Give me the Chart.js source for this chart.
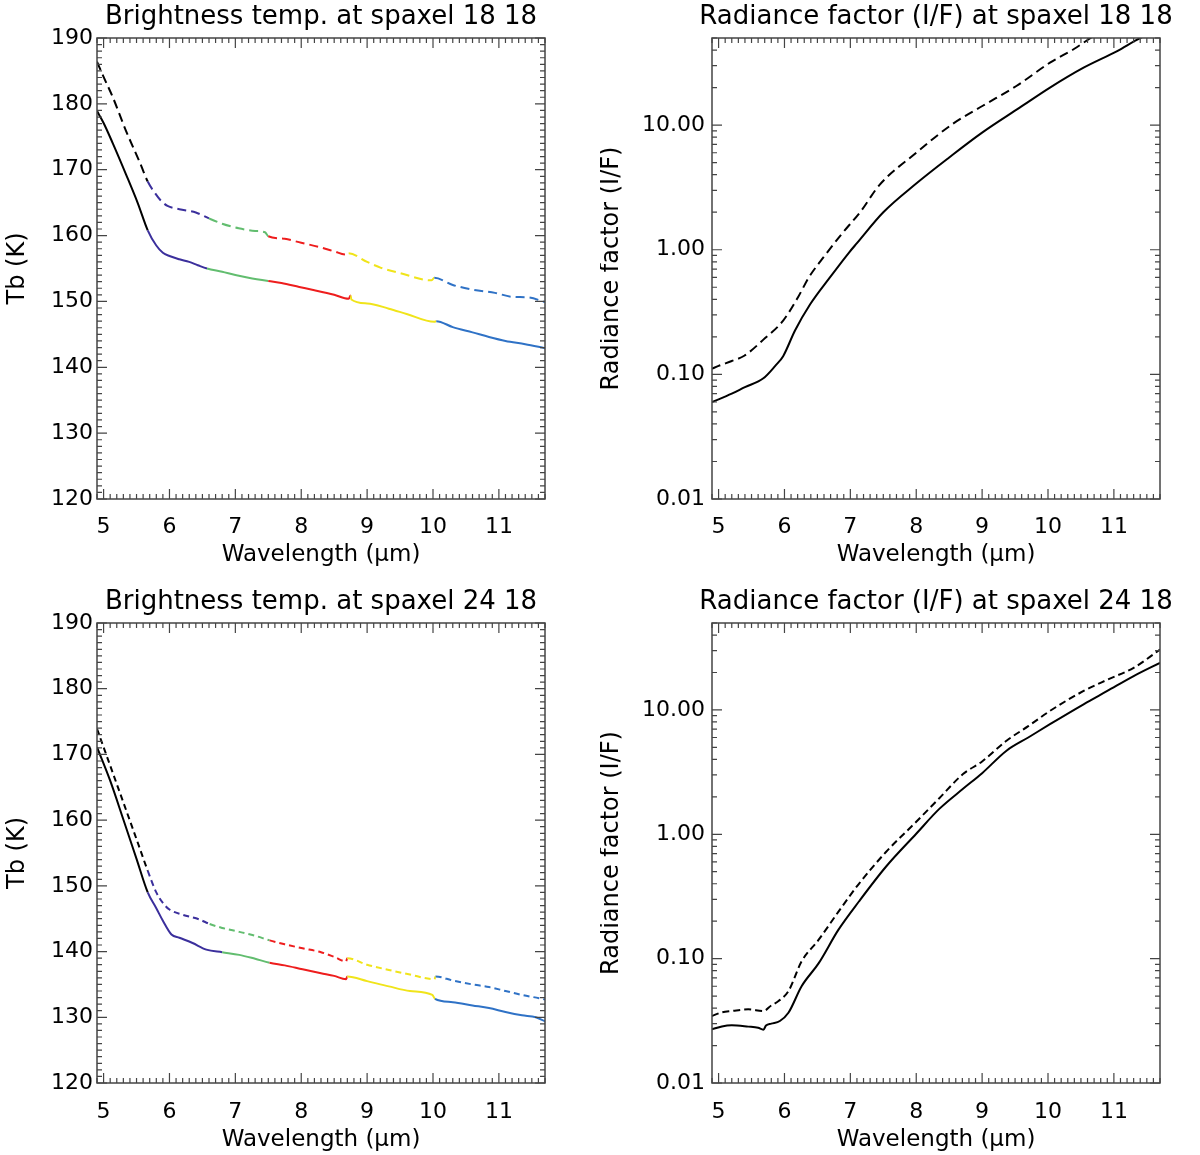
<!DOCTYPE html>
<html>
<head>
<meta charset="utf-8">
<script src="https://cdn.jsdelivr.net/npm/chart.js@4.4.1/dist/chart.umd.min.js"></script>
<style>
  html, body { margin: 0; padding: 0; background: #fff; }
  .panel { position: absolute; }
</style>
</head>
<body>
<div class="panel" style="left:0;top:0;width:600px;height:577px"><canvas id="tb18"></canvas></div>
<div class="panel" style="left:600px;top:0;width:600px;height:577px"><canvas id="if18"></canvas></div>
<div class="panel" style="left:0;top:577px;width:600px;height:578px"><canvas id="tb24"></canvas></div>
<div class="panel" style="left:600px;top:577px;width:600px;height:578px"><canvas id="if24"></canvas></div>
<script>
// ---- data ----
const wlTicks = [5, 6, 7, 8, 9, 10, 11];
const tbTicks = [120, 130, 140, 150, 160, 170, 180, 190];
const ifTicks = [0.01, 0.1, 1, 10];

// colour of each spectral band, left to right
const bandColors = ['#000000', '#3b2f9c', '#62bd6f', '#ee1d1d', '#f0e41a', '#2f72c6'];

// spaxel 18 18, brightness temperature
const tb18SolidWl = [4.90, 5.00, 5.14, 5.34, 5.52, 5.67, 5.80, 5.90, 6.00, 6.15, 6.30, 6.43, 6.57, 6.80, 7.00, 7.20, 7.50,
  7.70, 7.97, 8.20, 8.50, 8.72, 8.75, 8.76, 9.00, 9.33, 9.60, 10.02, 10.05, 10.30, 10.60, 10.85, 11.10, 11.40, 11.70];
const tb18SolidTb = [178.9, 177.1, 174.0, 169.3, 164.9, 160.8, 158.5, 157.4, 156.9, 156.4, 156.0, 155.5, 155.0, 154.5, 154.0, 153.6, 153.1,
  152.8, 152.2, 151.7, 151.0, 150.4, 150.9, 150.3, 149.7, 148.9, 148.1, 146.9, 147.0, 146.1, 145.3, 144.6, 144.0, 143.5, 142.9];
const tb18SolidEdges = [5.67, 6.57, 7.50, 8.75, 10.03];

const tb18DashWl = [4.90, 5.00, 5.14, 5.34, 5.55, 5.67, 5.77, 5.87, 5.97, 6.15, 6.40, 6.60, 6.80, 7.05, 7.30, 7.45, 7.50,
  7.75, 8.00, 8.30, 8.50, 8.68, 8.72, 9.00, 9.21, 9.50, 9.98, 10.02, 10.30, 10.60, 10.94, 11.20, 11.45, 11.70];
const tb18DashTb = [186.4, 184.1, 181.0, 175.9, 171.1, 168.2, 166.6, 165.3, 164.5, 164.0, 163.5, 162.6, 161.8, 161.1, 160.7, 160.5, 159.9,
  159.5, 158.9, 158.2, 157.6, 157.1, 157.3, 156.0, 155.1, 154.3, 153.2, 153.6, 152.5, 151.8, 151.3, 150.7, 150.6, 149.9];
const tb18DashEdges = [5.67, 6.58, 7.48, 8.70, 10.00];

// spaxel 24 18, brightness temperature
const tb24SolidWl = [4.90, 5.10, 5.30, 5.50, 5.67, 5.80, 5.90, 6.03, 6.15, 6.35, 6.56, 6.80, 7.06, 7.30, 7.52,
  7.75, 8.02, 8.30, 8.50, 8.68, 8.70, 9.00, 9.33, 9.65, 9.99, 10.03, 10.30, 10.60, 10.85, 11.10, 11.35, 11.56, 11.70];
const tb24SolidTb = [171.1, 166.0, 160.1, 154.1, 149.0, 146.6, 144.7, 142.6, 142.1, 141.3, 140.3, 139.9, 139.5, 138.9, 138.3,
  137.9, 137.3, 136.7, 136.3, 135.8, 136.2, 135.5, 134.7, 134.0, 133.4, 132.8, 132.3, 131.8, 131.4, 130.8, 130.3, 130.0, 129.4];
const tb24SolidEdges = [5.67, 6.58, 7.52, 8.70, 10.03];

const tb24DashWl = [4.90, 5.10, 5.30, 5.50, 5.67, 5.80, 5.90, 6.00, 6.20, 6.45, 6.61, 6.80, 7.06, 7.30, 7.52,
  7.75, 8.02, 8.30, 8.50, 8.68, 8.70, 9.00, 9.33, 9.65, 10.02, 10.04, 10.30, 10.60, 10.85, 11.10, 11.35, 11.61, 11.70];
const tb24DashTb = [173.9, 168.3, 162.7, 157.1, 152.3, 149.0, 147.4, 146.4, 145.6, 144.9, 144.2, 143.6, 143.0, 142.4, 141.7,
  141.1, 140.5, 139.9, 139.2, 138.5, 139.0, 138.0, 137.2, 136.5, 135.8, 136.2, 135.6, 135.0, 134.6, 134.0, 133.4, 132.9, 132.7];
const tb24DashEdges = [5.67, 6.61, 7.52, 8.70, 10.04];

// spaxel 18 18, radiance factor
const if18SolidWl = [4.90, 5.00, 5.20, 5.40, 5.68, 5.86, 5.98, 6.16, 6.39, 6.69, 6.98, 7.10, 7.50, 8.00, 8.50, 9.00,
  9.57, 10.03, 10.54, 11.05, 11.40, 11.70];
const if18SolidIf = [0.060, 0.063, 0.070, 0.079, 0.093, 0.117, 0.140, 0.225, 0.365, 0.60, 0.95, 1.13, 2.00, 3.40, 5.5, 8.7,
  13.8, 20.0, 28.9, 39.3, 50.0, 58.0];

const if18DashWl = [4.90, 5.00, 5.20, 5.39, 5.68, 5.98, 6.21, 6.37, 6.57, 6.87, 7.16, 7.44, 8.00, 8.55, 9.01, 9.52,
  10.03, 10.40, 10.70, 11.00];
const if18DashIf = [0.111, 0.117, 0.128, 0.141, 0.190, 0.270, 0.420, 0.60, 0.84, 1.34, 2.04, 3.30, 6.0, 10.2, 14.3, 20.6,
  31.7, 41.0, 52.0, 62.0];

// spaxel 24 18, radiance factor
const if24SolidWl = [4.90, 5.05, 5.20, 5.45, 5.60, 5.68, 5.72, 5.80, 5.93, 6.06, 6.26, 6.52, 6.82, 7.13, 7.54, 8.00,
  8.35, 8.71, 9.00, 9.37, 9.70, 10.03, 10.54, 10.90, 11.30, 11.70];
const if24SolidIf = [0.0270, 0.0285, 0.0291, 0.0284, 0.0278, 0.0268, 0.0290, 0.0300, 0.0315, 0.0367, 0.060, 0.092, 0.171, 0.288, 0.548, 1.01,
  1.60, 2.32, 3.10, 4.70, 6.0, 7.68, 11.1, 14.2, 18.7, 23.9];

const if24DashWl = [4.90, 5.05, 5.20, 5.45, 5.68, 5.80, 5.91, 6.06, 6.26, 6.52, 6.82, 7.13, 7.54, 8.00, 8.35, 8.71,
  9.00, 9.37, 9.70, 10.03, 10.54, 10.90, 11.30, 11.70];
const if24DashIf = [0.0346, 0.0370, 0.0379, 0.0391, 0.0379, 0.0420, 0.0456, 0.0548, 0.095, 0.142, 0.239, 0.40, 0.72, 1.26, 1.95, 3.05,
  3.85, 5.65, 7.4, 9.82, 14.2, 17.5, 21.8, 30.6];

// ---- drawing ----
const FONT = '"DejaVu Sans", sans-serif';

function line(wl, vals, edges, dash) {
  return {
    data: wl.map((w, i) => ({ x: w, y: vals[i] })),
    borderColor: '#000',
    borderWidth: 2,
    borderDash: dash || [],
    pointRadius: 0,
    cubicInterpolationMode: 'monotone',
    segment: edges ? {
      borderColor: c => bandColors[edges.filter(e => e <= c.p0.parsed.x + 1e-9).length]
    } : undefined
  };
}

// IDL-style box with inward major/minor ticks on all four sides
const idlFrame = {
  id: 'idlFrame',
  afterDatasetsDraw(chart, args, opts) {
    const { ctx, chartArea: a, scales: { x, y } } = chart;
    ctx.save();
    ctx.strokeStyle = '#444';
    ctx.lineWidth = 1.5;
    ctx.strokeRect(a.left, a.top, a.right - a.left, a.bottom - a.top);
    ctx.lineWidth = 1.2;
    ctx.beginPath();
    // x ticks every 0.1 um
    for (let k = Math.ceil(x.min * 10); k <= Math.floor(x.max * 10); k++) {
      const px = x.getPixelForValue(k / 10);
      const len = k % 10 === 0 ? 10 : 5;
      ctx.moveTo(px, a.bottom); ctx.lineTo(px, a.bottom - len);
      ctx.moveTo(px, a.top); ctx.lineTo(px, a.top + len);
    }
    const yt = [];
    if (opts.log) {
      for (let e = -2; e <= 1; e++) {
        for (let k = 1; k <= 9; k++) {
          const v = k * Math.pow(10, e);
          if (v >= y.min * 0.999 && v <= y.max * 1.001) yt.push([v, k === 1]);
        }
      }
    } else {
      for (let v = y.min; v <= y.max; v++) yt.push([v, v % 10 === 0]);
    }
    yt.forEach(([v, major]) => {
      const py = y.getPixelForValue(v);
      const len = major ? 10 : 5;
      ctx.moveTo(a.left, py); ctx.lineTo(a.left + len, py);
      ctx.moveTo(a.right, py); ctx.lineTo(a.right - len, py);
    });
    ctx.stroke();
    ctx.restore();
  }
};

const panelTitle = {
  id: 'panelTitle',
  afterDraw(chart, args, opts) {
    const { ctx, chartArea: a } = chart;
    ctx.save();
    ctx.font = '26px ' + FONT;
    ctx.fillStyle = '#000';
    ctx.textAlign = 'center';
    ctx.textBaseline = 'middle';
    ctx.fillText(opts.text, (a.left + a.right) / 2, opts.y);
    ctx.restore();
  }
};

function makeChart(id, datasets, p) {
  const log = p.log;
  new Chart(document.getElementById(id), {
    type: 'line',
    data: { datasets: datasets },
    options: {
      responsive: true,
      maintainAspectRatio: false,
      animation: false,
      layout: { padding: { top: p.top, right: p.right, left: 0, bottom: 0 } },
      plugins: {
        legend: { display: false },
        tooltip: { enabled: false },
        title: { display: false },
        panelTitle: { text: p.title, y: p.titleY },
        idlFrame: { log: log }
      },
      scales: {
        x: {
          type: 'linear',
          min: 4.9,
          max: 11.7,
          grid: { display: false, drawTicks: false },
          border: { display: false },
          afterBuildTicks: s => { s.ticks = wlTicks.map(v => ({ value: v })); },
          afterFit: s => { s.height = p.xh; },
          ticks: { color: '#000', font: { family: FONT, size: 22 }, padding: p.xPad, maxRotation: 0 },
          title: {
            display: true, text: 'Wavelength (μm)', color: '#000',
            font: { family: FONT, size: 23 }, padding: { top: 0, bottom: p.xtPad }
          }
        },
        y: {
          type: log ? 'logarithmic' : 'linear',
          min: log ? 0.01 : 120,
          max: log ? 50 : 190,
          grid: { display: false, drawTicks: false },
          border: { display: false },
          afterBuildTicks: s => { s.ticks = (log ? ifTicks : tbTicks).map(v => ({ value: v })); },
          afterFit: s => { s.width = p.yw; },
          ticks: {
            color: '#000', font: { family: FONT, size: 22 }, padding: log ? 7 : 4,
            callback: v => log ? Number(v).toFixed(2) : String(v)
          },
          title: {
            display: true, text: log ? 'Radiance factor (I/F)' : 'Tb (K)', color: '#000',
            font: { family: FONT, size: 24, lineHeight: 1 }, padding: { top: p.ytPad, bottom: 0 }
          }
        }
      }
    },
    plugins: [idlFrame, panelTitle]
  });
}

makeChart('tb18', [
  line(tb18SolidWl, tb18SolidTb, tb18SolidEdges),
  line(tb18DashWl, tb18DashTb, tb18DashEdges, [9, 5])
], { title: 'Brightness temp. at spaxel 18 18', titleY: 17, top: 38, right: 55, yw: 97, xh: 78, xPad: 15, xtPad: 8, ytPad: 6 });

makeChart('if18', [
  line(if18SolidWl, if18SolidIf),
  line(if18DashWl, if18DashIf, null, [9, 5])
], { log: true, title: 'Radiance factor (I/F) at spaxel 18 18', titleY: 17, top: 38, right: 40, yw: 112, xh: 78, xPad: 15, xtPad: 8, ytPad: 0 });

makeChart('tb24', [
  line(tb24SolidWl, tb24SolidTb, tb24SolidEdges),
  line(tb24DashWl, tb24DashTb, tb24DashEdges, [6, 4])
], { title: 'Brightness temp. at spaxel 24 18', titleY: 25, top: 46, right: 55, yw: 97, xh: 72, xPad: 16, xtPad: 1, ytPad: 6 });

makeChart('if24', [
  line(if24SolidWl, if24SolidIf),
  line(if24DashWl, if24DashIf, null, [7, 4])
], { log: true, title: 'Radiance factor (I/F) at spaxel 24 18', titleY: 25, top: 46, right: 40, yw: 112, xh: 72, xPad: 16, xtPad: 1, ytPad: 0 });
</script>
</body>
</html>
